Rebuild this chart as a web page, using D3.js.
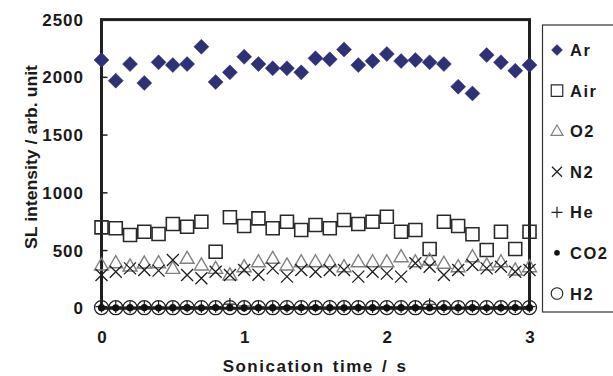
<!DOCTYPE html>
<html><head><meta charset="utf-8">
<script src="https://cdn.jsdelivr.net/npm/d3@7"></script>
<style>
body{margin:0;background:#fff}
svg text{font-family:"Liberation Sans",Arial,sans-serif;font-weight:bold;fill:#1a1a1a}
</style></head><body>
<svg id="chart" width="613" height="376"></svg>
<script>
const times=[0,0.1,0.2,0.3,0.4,0.5,0.6,0.7,0.8,0.9,1.0,1.1,1.2,1.3,1.4,1.5,1.6,1.7,1.8,1.9,2.0,2.1,2.2,2.3,2.4,2.5,2.6,2.7,2.8,2.9,3.0];
const ar =[2150,1971,2115,1951,2130,2106,2115,2265,1959,2043,2178,2115,2078,2078,2043,2165,2156,2242,2106,2141,2202,2141,2150,2130,2115,1919,1861,2193,2130,2057,2106];
const air=[701,693,635,663,643,730,706,750,490,788,713,779,693,750,678,721,693,765,730,750,793,663,678,513,750,713,641,505,663,513,663];
const o2 =[375,395,366,392,395,346,433,375,346,290,360,403,433,375,403,403,403,360,403,403,403,447,403,418,390,360,447,375,403,332,360];
const n2 =[288,317,346,332,326,418,288,260,317,288,332,290,346,274,332,317,332,332,274,317,300,274,390,360,288,332,375,346,360,317,332];
const he =[15,12,10,14,12,10,15,12,14,37,20,12,10,14,12,15,10,12,14,12,15,12,14,35,12,10,14,12,15,12,14];
const co2=[5,4,5,6,4,5,5,4,6,5,4,5,5,4,6,5,5,4,5,6,4,5,5,4,6,5,5,4,5,6,5];
const h2 =[6,5,6,5,6,5,6,6,5,6,5,6,5,6,6,5,6,5,6,5,6,6,5,6,5,6,5,6,5,6,6];
const seriesNames=["Ar","Air","O2","N2","He","CO2","H2"];
const yTicks=[0,500,1000,1500,2000,2500];
const xTicks=[0,1,2,3];

const svg=d3.select("#chart");
const x=d3.scaleLinear().domain([0,3]).range([101.5,529.5]);
const y=d3.scaleLinear().domain([0,2500]).range([308.3,19.6]);

function diamond(s){const h=s/2;return `M0,${-h}L${h},0L0,${h}L${-h},0Z`;}
function square(s){const h=s/2;return `M${-h},${-h}H${h}V${h}H${-h}Z`;}
function tri(s){const h=s/2;const t=s*0.86;return `M0,${-t/2-1}L${h},${t/2-1}L${-h},${t/2-1}Z`;}
function cross(s){const h=s/2;return `M${-h},${-h}L${h},${h}M${h},${-h}L${-h},${h}`;}
function plus(s){const h=s/2;return `M${-h},0H${h}M0,${-h}V${h}`;}

const styles={
  Ar:{vals:ar,path:diamond,size:15,lsize:11,fill:"#2e3175",stroke:"#2e3175",sw:0.5},
  Air:{vals:air,path:square,size:13,lsize:11.5,fill:"none",stroke:"#2a2a2a",sw:1.6},
  O2:{vals:o2,path:tri,size:14,lsize:12,fill:"none",stroke:"#808080",sw:1.4},
  N2:{vals:n2,path:cross,size:12,lsize:10,fill:"none",stroke:"#1e1e1e",sw:1.3},
  He:{vals:he,path:plus,size:12,lsize:11,fill:"none",stroke:"#1e1e1e",sw:1.2},
  CO2:{vals:co2,dot:3.6,ldot:2.8,fill:"#111",stroke:"none",sw:0},
  H2:{vals:h2,circ:7,lcirc:5.8,fill:"none",stroke:"#1e1e1e",sw:1.3}
};

svg.append("rect").attr("x",x(0)).attr("y",y(2500)).attr("width",x(3)-x(0)).attr("height",y(0)-y(2500))
  .attr("fill","none").attr("stroke","#1f1f1f").attr("stroke-width",3);

svg.append("g").selectAll("line").data(yTicks.filter(d=>d>0&&d<2500)).join("line")
  .attr("x1",x(0)).attr("x2",x(0)+6).attr("y1",d=>y(d)).attr("y2",d=>y(d))
  .attr("stroke","#1f1f1f").attr("stroke-width",1.5);
svg.append("g").selectAll("text").data(yTicks).join("text")
  .attr("x",84).attr("y",d=>y(d)+6).attr("text-anchor","end").attr("font-size",17).attr("letter-spacing",1).text(d=>d);
svg.append("g").selectAll("text").data(xTicks).join("text")
  .attr("x",d=>x(d)+0.5).attr("y",342.5).attr("text-anchor","middle").attr("font-size",17).text(d=>d);

svg.append("text").attr("x",315).attr("y",371.5).attr("text-anchor","middle").attr("font-size",17)
  .attr("letter-spacing",1.5).attr("word-spacing",2).text("Sonication time / s");
svg.append("text").attr("transform","translate(36.5,157) rotate(-90)").attr("text-anchor","middle")
  .attr("font-size",16.5).attr("textLength",184).attr("lengthAdjust","spacingAndGlyphs").text("SL intensity / arb. unit");

const plot=svg.append("g");
seriesNames.forEach(name=>{
  const st=styles[name];
  const g=plot.append("g");
  const pts=times.map((t,i)=>({t,v:st.vals[i]}));
  if(st.dot){
    g.selectAll("circle").data(pts).join("circle").attr("cx",d=>x(d.t)).attr("cy",d=>y(d.v)).attr("r",st.dot).attr("fill",st.fill);
  } else if(st.circ){
    g.selectAll("circle").data(pts).join("circle").attr("cx",d=>x(d.t)).attr("cy",d=>y(d.v)).attr("r",st.circ)
      .attr("fill","none").attr("stroke",st.stroke).attr("stroke-width",st.sw);
  } else {
    g.selectAll("path").data(pts).join("path").attr("transform",d=>`translate(${x(d.t)},${y(d.v)})`)
      .attr("d",st.path(st.size)).attr("fill",st.fill).attr("stroke",st.stroke).attr("stroke-width",st.sw);
  }
});

const lg=svg.append("g");
lg.append("rect").attr("x",542.5).attr("y",25).attr("width",80).attr("height",287)
  .attr("fill","#fff").attr("stroke","#333").attr("stroke-width",1.2);
const ly=d3.scalePoint().domain(seriesNames).range([50,293.5]);
seriesNames.forEach(name=>{
  const st=styles[name];const cy=ly(name);
  if(st.dot){lg.append("circle").attr("cx",557).attr("cy",cy).attr("r",st.ldot).attr("fill",st.fill);}
  else if(st.circ){lg.append("circle").attr("cx",557).attr("cy",cy).attr("r",st.lcirc).attr("fill","none").attr("stroke",st.stroke).attr("stroke-width",1.1);}
  else{lg.append("path").attr("transform",`translate(557,${cy})`).attr("d",st.path(st.lsize))
      .attr("fill",st.fill).attr("stroke",st.stroke).attr("stroke-width",Math.min(st.sw,1.2));}
  lg.append("text").attr("x",570).attr("y",cy+6).attr("font-size",16.5).attr("letter-spacing",1.5).text(name);
});
</script></body></html>
